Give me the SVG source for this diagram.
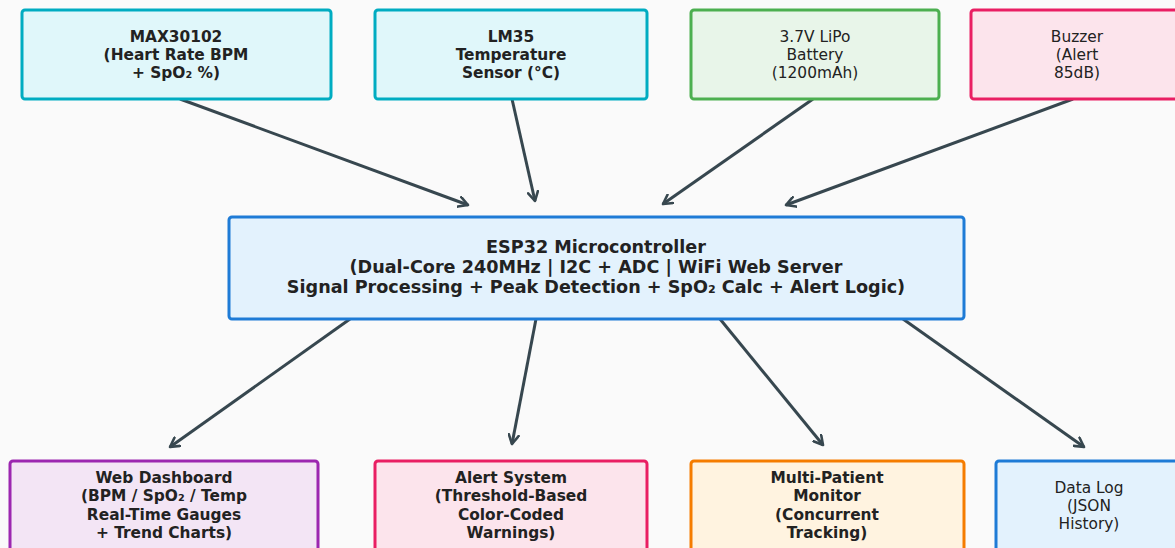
<svg xmlns="http://www.w3.org/2000/svg" width="1175" height="548" viewBox="0 0 1175 548">
<style>
.box{stroke-width:3}
.t{font-family:"DejaVu Sans",sans-serif;font-size:15.4px;fill:#222;text-anchor:middle}
.b{font-weight:bold}
.big{font-size:17.6px}
.cyan{fill:#e0f7fa;stroke:#00acc1}
.green{fill:#e8f5e9;stroke:#4caf50}
.pink{fill:#fce4ec;stroke:#e91e63}
.blue{fill:#e3f2fd;stroke:#1e7bd6}
.purple{fill:#f3e5f5;stroke:#9c27b0}
.orange{fill:#fff3e0;stroke:#f57c00}
.conn line{stroke:#37474f;stroke-width:3;marker-end:url(#ah)}
</style>
<defs>
<marker id="ah" viewBox="0 0 12 12" refX="10" refY="6" markerWidth="12" markerHeight="12" markerUnits="userSpaceOnUse" orient="auto">
<path d="M1,1 L10,6 L1,11" fill="none" stroke="#37474f" stroke-width="2.6" stroke-linecap="round" stroke-linejoin="round"/>
</marker>
</defs>
<rect width="1175" height="548" fill="#fafafa"/>
<g class="conn" id="connectors">
<line x1="180" y1="99" x2="468" y2="205"/>
<line x1="512" y1="99" x2="535" y2="201"/>
<line x1="813" y1="99" x2="663" y2="204"/>
<line x1="1073" y1="99" x2="786" y2="205"/>
<line x1="350" y1="319" x2="170" y2="447"/>
<line x1="536" y1="319" x2="512" y2="444"/>
<line x1="720" y1="319" x2="823" y2="445"/>
<line x1="903" y1="319" x2="1084" y2="447"/>
</g>
<g id="max30102">
<rect class="box cyan" x="22" y="10" width="309" height="89" rx="3"/>
<text class="t b"><tspan x="176" y="42">MAX30102</tspan><tspan x="176" y="60">(Heart Rate BPM</tspan><tspan x="176" y="78">+ SpO₂ %)</tspan></text>
</g>
<g id="lm35">
<rect class="box cyan" x="375" y="10" width="272" height="89" rx="3"/>
<text class="t b"><tspan x="511" y="42">LM35</tspan><tspan x="511" y="60">Temperature</tspan><tspan x="511" y="78">Sensor (°C)</tspan></text>
</g>
<g id="battery">
<rect class="box green" x="691" y="10" width="248" height="89" rx="3"/>
<text class="t"><tspan x="815" y="42">3.7V LiPo</tspan><tspan x="815" y="60">Battery</tspan><tspan x="815" y="78">(1200mAh)</tspan></text>
</g>
<g id="buzzer">
<rect class="box pink" x="971" y="10" width="212" height="89" rx="3"/>
<text class="t"><tspan x="1077" y="42">Buzzer</tspan><tspan x="1077" y="60">(Alert</tspan><tspan x="1077" y="78">85dB)</tspan></text>
</g>
<g id="esp32">
<rect class="box blue" x="229" y="217" width="735" height="102" rx="3"/>
<text class="t b big"><tspan x="596" y="253">ESP32 Microcontroller</tspan><tspan x="596" y="273">(Dual-Core 240MHz | I2C + ADC | WiFi Web Server</tspan><tspan x="596" y="293">Signal Processing + Peak Detection + SpO₂ Calc + Alert Logic)</tspan></text>
</g>
<g id="dashboard">
<rect class="box purple" x="10" y="461" width="308" height="100" rx="3"/>
<text class="t b"><tspan x="164" y="483">Web Dashboard</tspan><tspan x="164" y="501">(BPM / SpO₂ / Temp</tspan><tspan x="164" y="520">Real-Time Gauges</tspan><tspan x="164" y="538">+ Trend Charts)</tspan></text>
</g>
<g id="alert">
<rect class="box pink" x="375" y="461" width="272" height="100" rx="3"/>
<text class="t b"><tspan x="511" y="483">Alert System</tspan><tspan x="511" y="501">(Threshold-Based</tspan><tspan x="511" y="520">Color-Coded</tspan><tspan x="511" y="538">Warnings)</tspan></text>
</g>
<g id="multipatient">
<rect class="box orange" x="691" y="461" width="273" height="100" rx="3"/>
<text class="t b"><tspan x="827" y="483">Multi-Patient</tspan><tspan x="827" y="501">Monitor</tspan><tspan x="827" y="520">(Concurrent</tspan><tspan x="827" y="538">Tracking)</tspan></text>
</g>
<g id="datalog">
<rect class="box blue" x="996" y="461" width="190" height="100" rx="3"/>
<text class="t"><tspan x="1089" y="493">Data Log</tspan><tspan x="1089" y="511">(JSON</tspan><tspan x="1089" y="529">History)</tspan></text>
</g>
</svg>
